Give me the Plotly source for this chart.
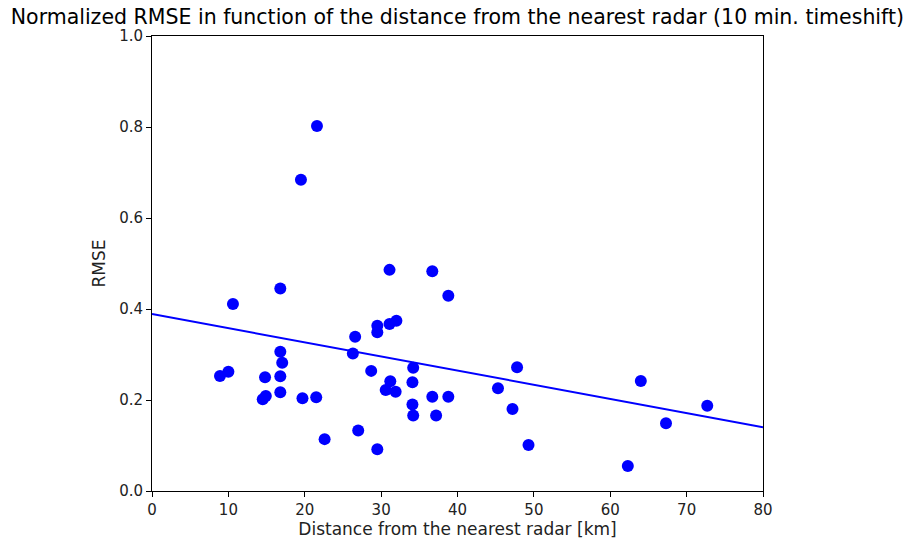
import plotly.graph_objects as go

distance_km = [8.9, 10.0, 10.6, 16.8, 16.8, 17.05, 14.8, 16.8, 14.9, 14.5, 16.8, 19.7, 21.5, 22.6,
               19.5, 21.6, 31.1, 36.7, 38.8, 29.5, 29.5, 31.1, 32.0, 26.6, 26.3, 28.7, 34.2, 31.2,
               30.6, 31.9, 34.1, 34.1, 34.2, 36.7, 37.2, 38.8, 27.0, 29.5, 47.8, 45.3, 47.2, 49.3,
               64.0, 72.7, 67.3, 62.3]
rmse = [0.253, 0.262, 0.411, 0.445, 0.306, 0.282, 0.250, 0.252, 0.209, 0.2015, 0.217, 0.204, 0.206, 0.114,
        0.684, 0.802, 0.486, 0.483, 0.429, 0.363, 0.349, 0.367, 0.374, 0.339, 0.302, 0.264, 0.271, 0.241,
        0.222, 0.218, 0.239, 0.190, 0.166, 0.207, 0.166, 0.207, 0.133, 0.092, 0.272, 0.226, 0.180, 0.101,
        0.242, 0.1875, 0.149, 0.055]

fit_intercept = 0.389
fit_slope = -0.00311
fit_x = [0, 80]
fit_y = [fit_intercept + fit_slope * x for x in fit_x]

x_ticks = [0, 10, 20, 30, 40, 50, 60, 70, 80]
y_ticks = [0.0, 0.2, 0.4, 0.6, 0.8, 1.0]

font = "DejaVu Sans"

fig = go.Figure()
fig.add_trace(go.Scatter(x=distance_km, y=rmse, mode="markers",
                         marker=dict(color="#0000ff", size=12, line=dict(width=0)),
                         showlegend=False))
fig.add_trace(go.Scatter(x=fit_x, y=fit_y, mode="lines",
                         line=dict(color="#0000ff", width=2), showlegend=False))

axis_common = dict(showline=True, linecolor="black", linewidth=1, mirror=True,
                   ticks="outside", ticklen=5, tickwidth=1, tickcolor="black",
                   showgrid=False, zeroline=False,
                   tickfont=dict(family=font, size=15, color="#222222"))

fig.update_layout(
    width=903, height=546,
    margin=dict(l=152, r=140, t=36, b=55),
    paper_bgcolor="white", plot_bgcolor="white",
    font=dict(family=font, color="black"),
    title=dict(text="Normalized RMSE in function of the distance from the nearest radar (10 min. timeshift)",
               x=0.5065, xanchor="center", y=0.969, yanchor="middle",
               font=dict(family=font, size=20.5, color="black")),
    xaxis=dict(range=[0, 80], tickvals=x_ticks, ticktext=[str(v) for v in x_ticks],
               title=dict(text="Distance from the nearest radar [km]", standoff=4,
                          font=dict(family=font, size=17, color="#222222")),
               **axis_common),
    yaxis=dict(range=[0, 1.0], tickvals=y_ticks, ticktext=[f"{v:.1f}" for v in y_ticks],
               title=dict(text="RMSE", standoff=9,
                          font=dict(family=font, size=17, color="#222222")),
               **axis_common),
)

fig.write_html("out.html")
